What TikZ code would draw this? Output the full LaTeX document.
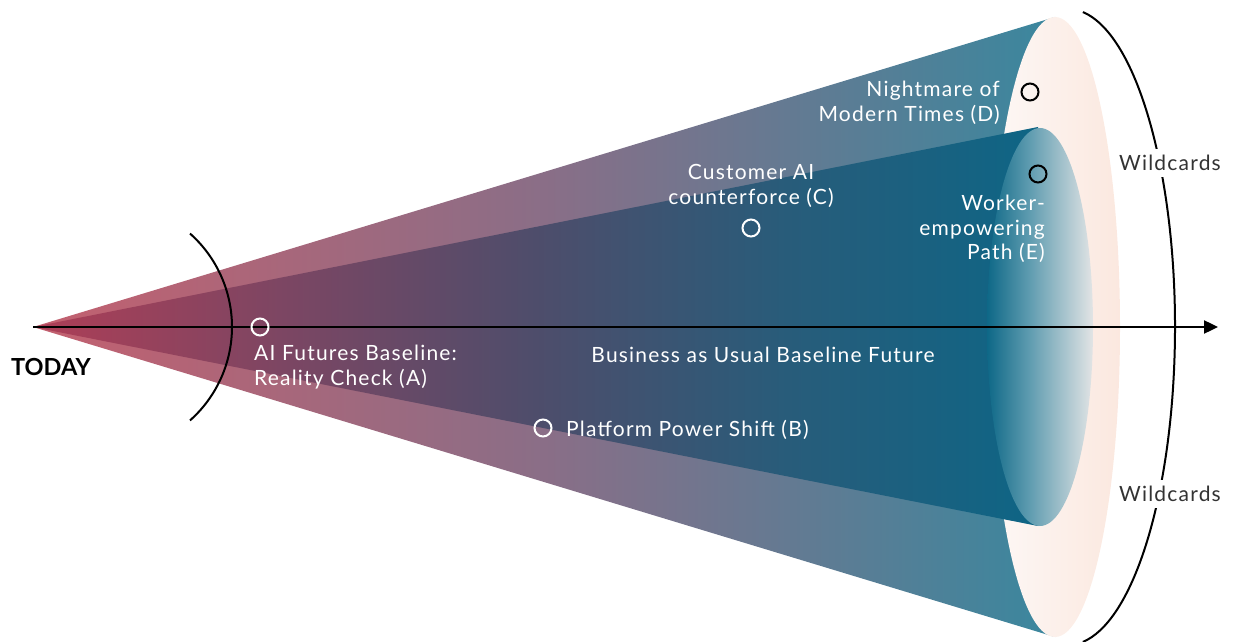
\documentclass[tikz,border=0pt]{standalone}
\usepackage{fontspec}
\setmainfont{Lato}
\newfontfamily\labfont[LetterSpace=5.7]{Lato}
\usetikzlibrary{arrows.meta}

\definecolor{ocL}{HTML}{C4606F}
\definecolor{ocM}{HTML}{8A6E87}
\definecolor{ocR}{HTML}{3A879E}
\definecolor{icL}{HTML}{AE3E56}
\definecolor{icQ}{HTML}{7C4663}
\definecolor{icM}{HTML}{4E4D6B}
\definecolor{icT}{HTML}{285C7A}
\definecolor{icR}{HTML}{0E6585}
\definecolor{peL}{HTML}{FDF8F6}
\definecolor{peR}{HTML}{FBE8DF}
\definecolor{ieL}{HTML}{0E6887}
\definecolor{ieM}{HTML}{5F9CB0}
\definecolor{ieR}{HTML}{E2E4E5}
\definecolor{wildgrey}{HTML}{333333}

% horizontal colour ramps; the span 25bp--75bp covers the filled path
\pgfdeclarehorizontalshading{outercone}{100bp}{color(0bp)=(ocL); color(25bp)=(ocL); color(50bp)=(ocM); color(75bp)=(ocR); color(100bp)=(ocR)}
\pgfdeclarehorizontalshading{innercone}{100bp}{color(0bp)=(icL); color(25bp)=(icL); color(37.5bp)=(icQ); color(50bp)=(icM); color(62.5bp)=(icT); color(75bp)=(icR); color(100bp)=(icR)}
\pgfdeclarehorizontalshading{peachdisc}{100bp}{color(0bp)=(peL); color(25bp)=(peL); color(75bp)=(peR); color(100bp)=(peR)}
\pgfdeclarehorizontalshading{innerdisc}{100bp}{color(0bp)=(ieL); color(25bp)=(ieL); color(45bp)=(ieM); color(75bp)=(ieR); color(100bp)=(ieR)}

\tikzset{
  lab/.style={text=white, inner sep=0pt, font=\labfont\fontsize{21}{24.5}\selectfont},
  wild/.style={text=wildgrey, fill=white, inner xsep=1pt, inner ysep=6pt, font=\labfont\fontsize{21}{24.5}\selectfont},
  mk/.style={circle, draw=#1, line width=2pt, minimum size=17pt, inner sep=0pt},
  axisline/.style={line width=2.4pt, -{Triangle[length=14pt,width=13pt]}},
  bracket/.style={line width=2pt},
}

\begin{document}
\begin{tikzpicture}[x=1pt,y=1pt]
\useasboundingbox (0,0) rectangle (1235,641);

% key points
\coordinate (apex) at (33,314);
\coordinate (axend) at (1218,314);
\coordinate (otop) at (1055,4);
\coordinate (obot) at (1055,624);
\coordinate (itop) at (1038,115);
\coordinate (ibot) at (1038,514);
\coordinate (pc) at (1055,314);
\coordinate (ic) at (1040,314);

% outer cone and its end disc
\shade[shading=outercone] (apex) -- (otop) -- (obot) -- cycle;
\shade[shading=peachdisc] (pc) ellipse [x radius=65pt, y radius=310pt];

% inner cone and its end disc
\shade[shading=innercone] (apex) -- (itop) -- (ibot) -- cycle;
\shade[shading=innerdisc] (ic) ellipse [x radius=53pt, y radius=199pt];

% near-term horizon arc
\coordinate (lac) at (107,314);
\draw[bracket] ([shift={(48.4:125pt)}]lac) arc[start angle=48.4, end angle=-48.4, radius=125pt];

% wildcards arc
\coordinate (wac) at (1068,314);
\draw[bracket] ([shift={(82:107pt and 318pt)}]wac) arc[start angle=82, end angle=-82, x radius=107pt, y radius=318pt];

% time axis
\draw[axisline] (apex) -- (axend);

% scenario markers
\node[mk=white] (ma) at (260,314) {};
\node[mk=white] (mb) at (543,213) {};
\node[mk=white] (mc) at (751,413) {};
\node[mk=black] (md) at (1030,549) {};
\node[mk=black] (me) at (1038,467) {};

% labels
\node[font=\fontsize{23.5}{26}\selectfont\bfseries, inner sep=0pt] (today) at (51,274) {TODAY};
\node[lab, anchor=west, align=left] (la) at (254,274) {AI Futures Baseline:\\Reality Check (A)};
\node[lab] (lbau) at (763,286) {Business as Usual Baseline Future};
\node[lab, anchor=west] (lb) at (566,211) {Platform Power Shift (B)};
\node[lab, align=center] (lc) at (751,455) {Customer AI\\counterforce (C)};
\node[lab, align=right, anchor=east] (ld) at (1000,538) {Nightmare of\\Modern Times (D)};
\node[lab, align=right, anchor=east] (le) at (1045,412) {Worker-\\empowering\\Path (E)};
\node[wild] (w1) at (1170,478) {Wildcards};
\node[wild] (w2) at (1170,147) {Wildcards};
\end{tikzpicture}
\end{document}
